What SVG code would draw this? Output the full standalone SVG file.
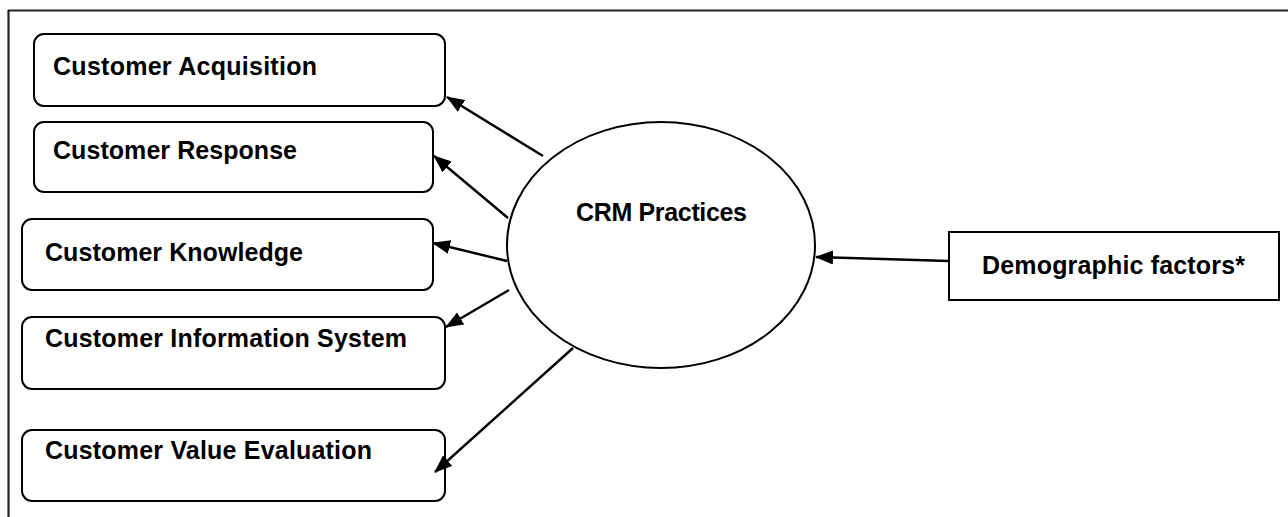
<svg xmlns="http://www.w3.org/2000/svg" width="1288" height="517" viewBox="0 0 1288 517">
  <style>
    .box { fill: #fff; stroke: #000; stroke-width: 2; }
    .lbl { font-family: "Liberation Sans", Arial, sans-serif; font-weight: bold; font-size: 25px; fill: #000; }
    .conn { stroke: #000; stroke-width: 2.4; fill: none; marker-end: url(#head); }
  </style>
  <defs>
    <marker id="head" viewBox="0 0 18 14" refX="17" refY="7" markerWidth="18" markerHeight="14" markerUnits="userSpaceOnUse" orient="auto">
      <path d="M0,0 L18,7 L0,14 Z" fill="#000"/>
    </marker>
  </defs>
  <rect width="1288" height="517" fill="#fff"/>

  <!-- frame: top and left rules -->
  <g id="frame" stroke="#222" stroke-width="2.2">
    <line x1="8" y1="10.5" x2="1288" y2="10.5"/>
    <line x1="8.5" y1="10" x2="8.5" y2="517"/>
  </g>

  <g id="acquisition">
    <rect class="box" x="34" y="34" width="411" height="72" rx="10"/>
    <text class="lbl" x="53" y="75" textLength="264">Customer Acquisition</text>
  </g>
  <g id="response">
    <rect class="box" x="34" y="122" width="399" height="70" rx="10"/>
    <text class="lbl" x="53" y="159" textLength="244">Customer Response</text>
  </g>
  <g id="knowledge">
    <rect class="box" x="22" y="219" width="411" height="71" rx="10"/>
    <text class="lbl" x="45" y="261" textLength="258">Customer Knowledge</text>
  </g>
  <g id="info-system">
    <rect class="box" x="22" y="317" width="423" height="72" rx="10"/>
    <text class="lbl" x="45" y="347" textLength="362">Customer Information System</text>
  </g>
  <g id="value-evaluation">
    <rect class="box" x="22" y="430" width="423" height="71" rx="10"/>
    <text class="lbl" x="45" y="459" textLength="327">Customer Value Evaluation</text>
  </g>
  <g id="crm-practices">
    <ellipse class="box" cx="661" cy="245" rx="154" ry="123"/>
    <text class="lbl" x="576" y="221" textLength="171">CRM Practices</text>
  </g>
  <g id="demographic">
    <rect class="box" x="949" y="232" width="330" height="68"/>
    <text class="lbl" x="982" y="274" textLength="263">Demographic factors*</text>
  </g>

  <g id="connectors">
    <line class="conn" x1="543" y1="156" x2="447" y2="97"/>
    <line class="conn" x1="508" y1="218" x2="434" y2="156"/>
    <line class="conn" x1="507" y1="261" x2="433" y2="243"/>
    <line class="conn" x1="509" y1="290" x2="446" y2="327"/>
    <line class="conn" x1="573" y1="348" x2="435" y2="472"/>
    <line class="conn" x1="949" y1="261" x2="816" y2="257"/>
  </g>
</svg>
